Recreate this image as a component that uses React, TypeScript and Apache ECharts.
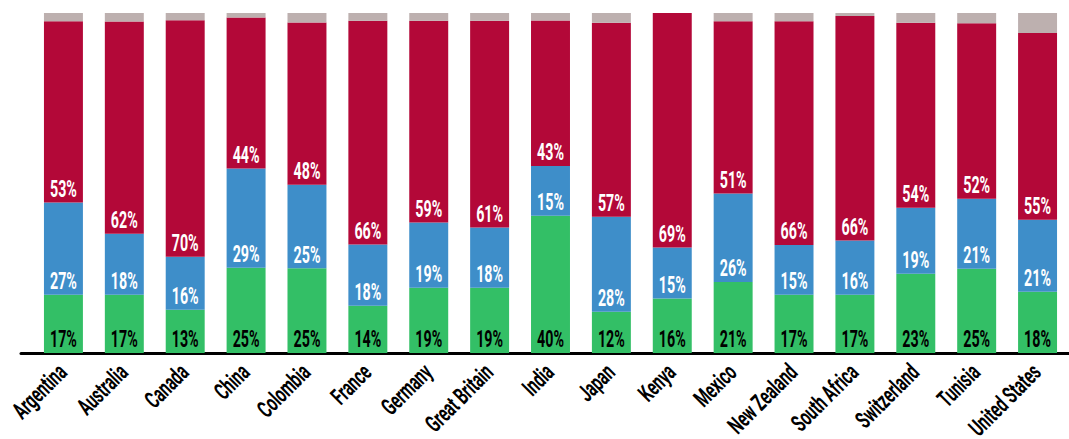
import React, { useEffect, useRef } from "react";
import * as echarts from "echarts";

const countries = ["Argentina", "Australia", "Canada", "China", "Colombia", "France", "Germany", "Great Britain", "India", "Japan", "Kenya", "Mexico", "New Zealand", "South Africa", "Switzerland", "Tunisia", "United States"];
const greenVals = [17.1, 17.1, 12.7, 25.1, 24.9, 13.9, 19.2, 19.2, 40.4, 12.1, 16.0, 20.9, 17.1, 17.1, 23.3, 24.8, 18.0];
const blueVals = [27.2, 18.0, 15.6, 29.2, 24.6, 18.0, 19.2, 17.7, 14.6, 28.0, 15.0, 26.0, 14.7, 16.0, 19.4, 20.6, 21.2];
const redVals = [53.3, 62.4, 69.6, 44.4, 47.7, 65.8, 59.3, 60.8, 42.8, 57.0, 69.0, 50.7, 65.8, 66.0, 54.4, 51.6, 54.9];
const grayVals = [2.4, 2.5, 2.1, 1.3, 2.8, 2.3, 2.3, 2.3, 2.2, 2.9, 0.0, 2.4, 2.4, 0.9, 2.9, 3.0, 5.9];

const FONT = "Roboto, 'Noto Sans', sans-serif";

export default function App() {
  const ref = useRef<HTMLDivElement>(null);
  useEffect(() => {
    document.body.style.margin = "0";
    const chart = echarts.init(ref.current!, null, { renderer: "svg" });
    const mk = (name: string, data: number[], color: string) => ({
      name,
      type: "bar",
      stack: "s",
      data,
      barWidth: "64%",
      itemStyle: { color },
      xAxisIndex: 0,
      yAxisIndex: 0,
    });
    const renderLabels = (params: any, api: any) => {
      const i = params.dataIndex;
      const segs: [number, number, string][] = [
        [0, greenVals[i], "#000"],
        [greenVals[i], blueVals[i], "#fff"],
        [greenVals[i] + blueVals[i], redVals[i], "#fff"],
      ];
      const children: any[] = segs.map(([base, v, color]) => {
        const pt = api.coord([i, base]);
        return {
          type: "text",
          x: pt[0],
          y: pt[1] - 2,
          scaleX: 0.62,
          style: {
            text: Math.round(v) + "%",
            fill: color,
            font: `bold 23px ${FONT}`,
            align: "center",
            verticalAlign: "bottom",
          },
        };
      });
      const p0 = api.coord([i, 0]);
      children.push({
        type: "text",
        x: p0[0] - 1,
        y: p0[1] + 15,
        rotation: Math.PI / 4,
        scaleX: 0.62,
        style: {
          text: countries[i],
          fill: "#000",
          font: `bold 24px ${FONT}`,
          align: "right",
          verticalAlign: "middle",
        },
      });
      return { type: "group", children };
    };
    chart.setOption({
      animation: false,
      grid: [
        { left: 33, right: 1, top: 13, bottom: 86, outerBoundsMode: "none" },
        { left: 21, right: 0, top: 13, bottom: 86, outerBoundsMode: "none" },
      ],
      xAxis: [
        {
          type: "category",
          data: countries,
          gridIndex: 0,
          axisLine: { show: false },
          axisTick: { show: false },
          axisLabel: { show: false },
        },
        {
          type: "value",
          gridIndex: 1,
          min: 0,
          max: 1,
          axisLine: { show: true, lineStyle: { color: "#000", width: 3 } },
          axisTick: { show: false },
          axisLabel: { show: false },
          splitLine: { show: false },
        },
      ],
      yAxis: [
        { type: "value", min: 0, max: 100, show: false, gridIndex: 0 },
        { type: "value", min: 0, max: 1, show: false, gridIndex: 1 },
      ],
      series: [
        mk("green", greenVals, "#33bf66"),
        mk("blue", blueVals, "#3e8ec9"),
        mk("red", redVals, "#b30838"),
        mk("gray", grayVals, "#bdb0af"),
        {
          type: "custom",
          xAxisIndex: 0,
          yAxisIndex: 0,
          clip: false,
          z: 10,
          data: countries.map((_, i) => [i, 0]),
          renderItem: renderLabels,
        },
      ],
    });
    return () => chart.dispose();
  }, []);
  return <div ref={ref} style={{ width: 1069, height: 439 }} />;
}
